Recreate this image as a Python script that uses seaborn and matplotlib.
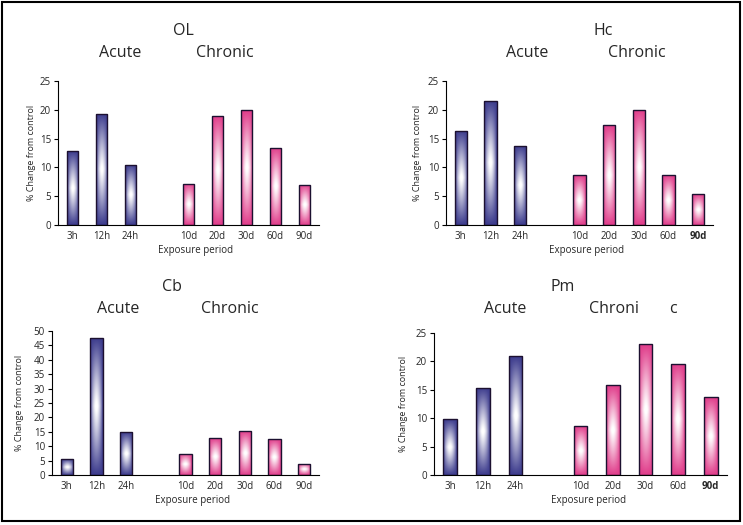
import numpy as np
import pandas as pd
import matplotlib
matplotlib.use("Agg")
import matplotlib.pyplot as plt
import seaborn as sns
from matplotlib.colors import to_rgb
from matplotlib.patches import Rectangle

sns.set_style("white")
plt.rcParams['font.family'] = ['Open Sans', 'DejaVu Sans']

categories = ["3h", "12h", "24h", "", "10d", "20d", "30d", "60d", "90d"]
acute_cats = ["3h", "12h", "24h"]
chronic_cats = ["10d", "20d", "30d", "60d", "90d"]

ol_acute = [12.8, 19.3, 10.5]
ol_chronic = [7.2, 19.0, 19.9, 13.4, 7.0]
hc_acute = [16.4, 21.6, 13.8]
hc_chronic = [8.6, 17.3, 20.0, 8.6, 5.3]
cb_acute = [5.5, 47.7, 14.9]
cb_chronic = [7.4, 12.8, 15.2, 12.4, 3.9]
pm_acute = [9.8, 15.4, 20.9]
pm_chronic = [8.6, 15.8, 23.0, 19.6, 13.7]

W, H = 743, 525
fig = plt.figure(figsize=(W / 100, H / 100), dpi=100)

ACUTE_COL = "#3b3a8c"
CHRONIC_COL = "#e03c8a"
EDGE = "#1c1030"


def px_axes(left, right, top, bottom):
    return fig.add_axes([left / W, 1 - bottom / H, (right - left) / W, (bottom - top) / H])


def gradient_img(color, n=60):
    c = np.array(to_rgb(color))
    u = np.linspace(-1, 1, n)
    v = np.linspace(-1, 1, n * 3)
    U, V = np.meshgrid(u, v)
    w = (1 - np.abs(U) ** 1.8) * (1 - np.abs(V) ** 1.1)
    w = np.clip(w * 1.05, 0, 1)
    img = c[None, None, :] * (1 - w[..., None]) + np.ones(3)[None, None, :] * w[..., None]
    return img


def panel(box, acute, chronic, ymax, ystep, width, bold90, title, tpos, apos, cpos,
          ylab_x, xlab_pos, chronic_split=None):
    ax = px_axes(*box)
    df = pd.DataFrame({
        "period": acute_cats + chronic_cats,
        "value": acute + chronic,
        "group": ["Acute"] * len(acute) + ["Chronic"] * len(chronic),
    })
    sns.barplot(data=df, x="period", y="value", hue="group", order=categories,
                palette={"Acute": ACUTE_COL, "Chronic": CHRONIC_COL},
                dodge=False, width=width, legend=False, ax=ax)
    for p in list(ax.patches):
        h = p.get_height()
        if not np.isfinite(h) or h <= 0:
            continue
        x0 = p.get_x()
        w = p.get_width()
        col = ACUTE_COL if x0 + w / 2 < 3 else CHRONIC_COL
        im = ax.imshow(gradient_img(col), extent=(x0, x0 + w, 0, h), aspect="auto",
                       origin="lower", zorder=2, interpolation="bilinear")
        im.set_clip_path(p)
        p.set_facecolor("none")
        p.set_edgecolor(EDGE)
        p.set_linewidth(1.0)
        p.set_zorder(3)
    ax.set_xlim(-0.5, 8.5)
    ax.set_ylim(0, ymax)
    ax.set_yticks(np.arange(0, ymax + 0.1, ystep))
    ax.set_yticklabels([str(int(t)) for t in np.arange(0, ymax + 0.1, ystep)], fontsize=7)
    ax.set_xticks(range(9))
    ax.set_xticklabels(categories, fontsize=7)
    if bold90:
        ax.get_xticklabels()[8].set_fontweight("bold")
    ax.set_xticks(np.arange(-0.5, 9, 1), minor=True)
    ax.tick_params(axis="x", which="major", length=0, pad=4)
    ax.tick_params(axis="x", which="minor", length=3, width=0.8, direction="out", color="black")
    ax.tick_params(axis="y", length=3, width=0.8, direction="out", color="black", pad=2, left=True)
    ax.set_xlabel("")
    ax.set_ylabel("")
    for s in ["top", "right"]:
        ax.spines[s].set_visible(False)
    for s in ["left", "bottom"]:
        ax.spines[s].set_color("black")
        ax.spines[s].set_linewidth(0.8)
    ax.set_facecolor("none")
    ax.autoscale(False)
    ax.set_xlim(-0.5, 8.5)
    ax.set_ylim(0, ymax)

    fig.text(tpos[0] / W, 1 - tpos[1] / H, title, ha="center", va="center", fontsize=11.5)
    fig.text(apos[0] / W, 1 - apos[1] / H, "Acute", ha="center", va="center", fontsize=11.5)
    if chronic_split is None:
        fig.text(cpos[0] / W, 1 - cpos[1] / H, "Chronic", ha="center", va="center", fontsize=11.5)
    else:
        fig.text(cpos[0] / W, 1 - cpos[1] / H, "Chroni", ha="center", va="center", fontsize=11.5)
        fig.text(chronic_split[0] / W, 1 - chronic_split[1] / H, "c", ha="center", va="center", fontsize=11.5)
    ymid = (box[2] + box[3]) / 2
    fig.text(ylab_x / W, 1 - ymid / H, "% Change from control", rotation=90,
             ha="center", va="center", fontsize=6.5)
    fig.text(xlab_pos[0] / W, 1 - xlab_pos[1] / H, "Exposure period",
             ha="center", va="center", fontsize=7)
    return ax


panel((58, 319, 81, 225), ol_acute, ol_chronic, 25, 5, 0.38, False, "OL",
      (183, 31), (120, 53), (225, 53), 32, (196, 251))
panel((446, 713, 81, 225), hc_acute, hc_chronic, 25, 5, 0.42, True, "Hc",
      (603, 31), (527, 53), (637, 53), 418, (587, 250))
panel((52, 319, 331, 475), cb_acute, cb_chronic, 50, 5, 0.42, False, "Cb",
      (172, 287), (118, 309), (230, 309), 20, (193, 501))
panel((434, 727, 333, 475), pm_acute, pm_chronic, 25, 5, 0.42, True, "Pm",
      (563, 287), (505, 309), (614, 309), 403, (589, 501), chronic_split=(673, 309))

fig.patches.append(Rectangle((2 / W, 1 - 521 / H), 738 / W, 519 / H, transform=fig.transFigure,
                             fill=False, edgecolor="black", linewidth=1.5))

fig.savefig("out.png", dpi=100)
